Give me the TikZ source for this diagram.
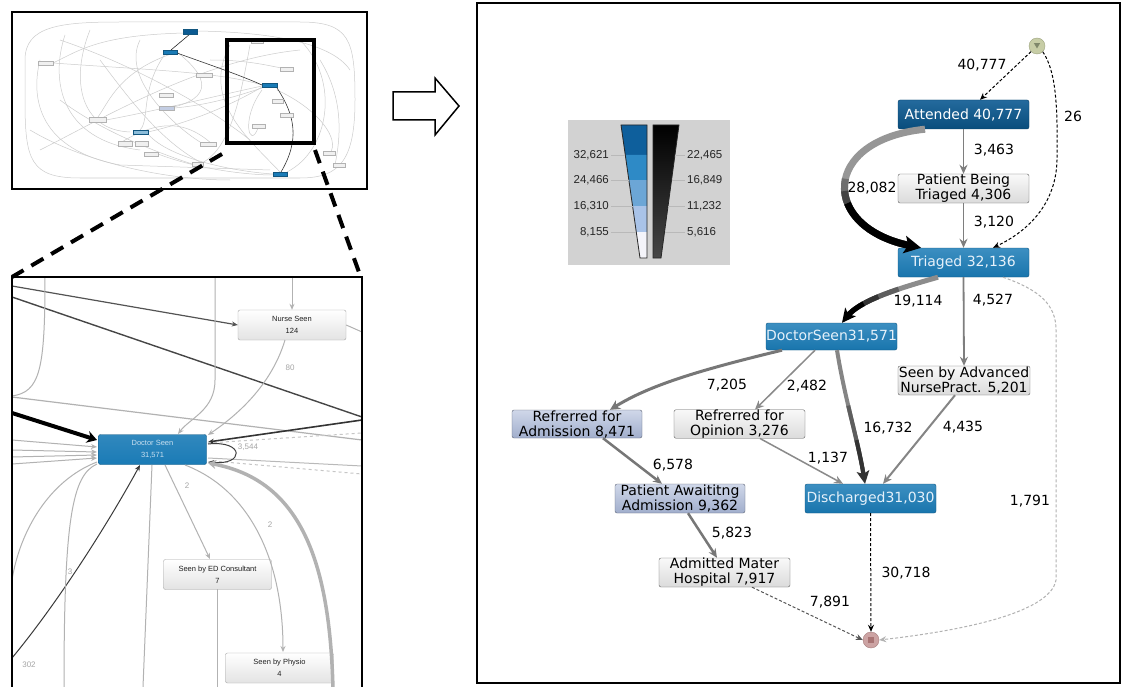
\documentclass[tikz,border=0pt]{standalone}
\usepackage{fontspec}
\setmainfont{DejaVu Sans}
\newfontfamily\lsans{Liberation Sans}
\usetikzlibrary{arrows.meta,shapes.geometric,calc}
\definecolor{dblue}{HTML}{0B5A92}
\definecolor{mblue}{HTML}{1A7BB6}
\definecolor{lblue}{HTML}{A9B7D7}
\definecolor{edgeg}{HTML}{7E7E7E}
\definecolor{legbg}{HTML}{D2D2D2}
\definecolor{bluetxt}{HTML}{E6F1FA}
\definecolor{bandA}{HTML}{0E5F9C}
\definecolor{bandB}{HTML}{2E8AC6}
\definecolor{bandC}{HTML}{6CA6D6}
\definecolor{bandD}{HTML}{A9C3E8}
\definecolor{bandE}{HTML}{F4F4FA}
\definecolor{stdraw}{HTML}{9CA27E}
\definecolor{stfill}{HTML}{C7CDA6}
\definecolor{sttri}{HTML}{7F876A}
\definecolor{endraw}{HTML}{A67C7C}
\definecolor{enfill}{HTML}{CCA3A3}
\definecolor{ensq}{HTML}{A87474}
\definecolor{g55}{HTML}{555555}
\definecolor{g77}{HTML}{777777}
\definecolor{g85}{HTML}{858585}
\definecolor{g8A}{HTML}{8A8A8A}
\definecolor{gA}{HTML}{969696}
\definecolor{gB}{HTML}{6E6E6E}
\definecolor{gC}{HTML}{444444}
\definecolor{gD}{HTML}{8C8C8C}
\definecolor{gE}{HTML}{5E5E5E}
\definecolor{gF}{HTML}{333333}
\definecolor{gG}{HTML}{858585}
\newcommand\fsz{\fontsize{14}{15}\selectfont}
\newcommand\isz{\lsans\fontsize{7.5}{12}\selectfont}
% tail of cubic (#1 .. controls #2 and #3 .. #4) from parameter #5, options #6
\newcommand\tailseg[6]{%
  \coordinate (tq0) at ($(#1)!#5!(#2)$);
  \coordinate (tq1) at ($(#2)!#5!(#3)$);
  \coordinate (tq2) at ($(#3)!#5!(#4)$);
  \coordinate (tr0) at ($(tq0)!#5!(tq1)$);
  \coordinate (tr1) at ($(tq1)!#5!(tq2)$);
  \coordinate (ts) at ($(tr0)!#5!(tr1)$);
  \draw[#6] (ts) .. controls (tr1) and (tq2) .. (#4);
}
% arrow head: tip #1, direction back toward #2, length #3, notch #4, half width #5, colour #6
\newcommand\headat[6]{%
  \coordinate (hb) at ($(#1)!#3!(#2)$);
  \coordinate (hn) at ($(#1)!#4!(#2)$);
  \fill[#6] (#1) -- ($(hb)!#5!90:(#1)$) -- (hn) -- ($(hb)!#5!-90:(#1)$) -- cycle;
}
\tikzset{
  box/.style={rectangle, rounded corners=2pt, inner sep=0pt, align=center, font=\fsz,
    minimum width=131pt, minimum height=29pt},
  bluebox/.style={box, draw=mblue!70!black, top color=mblue!85!white, bottom color=mblue!95!black, text=bluetxt},
  darkbox/.style={box, draw=dblue!70!black, top color=dblue!90!white, bottom color=dblue!85!black, text=white},
  greybox/.style={box, draw=gray!75!black, top color=gray!5, bottom color=gray!28, text=black},
  lbbox/.style={box, draw=lblue!55!black, top color=lblue!55!white, bottom color=lblue!95!black, text=black},
  elabel/.style={font=\fsz, text=black, inner sep=0pt},
  edge/.style={draw=edgeg, line width=1.8pt, -{Stealth[length=9pt,width=8pt]}},
  dedge/.style={draw=black, line width=1pt, dash pattern=on 3pt off 2pt, -{Stealth[length=7pt,width=6pt]}},
  faint/.style={draw=gray!40, line width=0.5pt},
  tbox/.style={draw=gray!60, fill=gray!12, line width=0.4pt},
  tblue/.style={draw=mblue!70!black, fill=mblue, line width=0.4pt},
  ibox/.style={rectangle, rounded corners=2pt, draw=gray!70, top color=white, bottom color=gray!22,
    font=\isz, text=gray!25!black, align=center, inner sep=0pt, minimum width=108pt, minimum height=30pt},
  ig/.style={draw=gray!60, line width=1pt},
  iarr/.style={-{Stealth[length=6pt,width=5pt]}},
  ilab/.style={font=\lsans\fontsize{8}{9}\selectfont, text=gray!70, inner sep=0pt},
  leg/.style={font=\lsans\fontsize{11.5}{12}\selectfont, text=gray!30!black, inner sep=0pt},
}
\begin{document}
\begin{tikzpicture}[x=1pt,y=-1pt]
\useasboundingbox (0,0) rectangle (1123,687);
\fill[white] (0,0) rectangle (1123,687);

% ---------------- thumbnail ----------------
\begin{scope}
\clip (12,12) rectangle (367,189);
\draw[faint] (25,60) .. controls (25,26) and (60,22) .. (120,22) -- (300,22) .. controls (350,22) and (355,40) .. (355,100) .. controls (355,160) and (340,178) .. (300,178) -- (80,178) .. controls (30,178) and (25,160) .. (25,100) -- cycle;
\draw[faint] (40,60) .. controls (30,100) and (40,150) .. (120,165) -- (270,170);
\draw[faint] (65,35) .. controls (50,80) and (60,140) .. (140,150);
\draw[faint] (90,30) .. controls (70,80) and (80,130) .. (130,132);
\draw[faint] (185,33) .. controls (100,35) and (80,50) .. (53,63);
\draw[faint] (177,52) .. controls (120,70) and (110,100) .. (98,117);
\draw[faint] (177,52) .. controls (200,70) and (220,95) .. (174,107);
\draw[faint] (165,54) .. controls (140,90) and (150,120) .. (140,130);
\draw[faint] (197,31) .. controls (260,32) and (330,40) .. (350,70);
\draw[faint] (53,63) .. controls (150,70) and (220,72) .. (262,85);
\draw[faint] (106,120) .. controls (160,110) and (220,95) .. (262,86);
\draw[faint] (148,132) .. controls (200,120) and (240,100) .. (262,87);
\draw[faint] (174,108) .. controls (210,105) and (240,95) .. (262,88);
\draw[faint] (100,60) .. controls (130,100) and (160,140) .. (200,162);
\draw[faint] (140,40) .. controls (120,80) and (180,130) .. (200,142);
\draw[faint] (230,45) .. controls (200,100) and (250,140) .. (280,172);
\draw[faint] (250,45) .. controls (240,100) and (230,150) .. (200,164);
\draw[faint] (300,40) .. controls (340,80) and (330,150) .. (287,172);
\draw[faint] (320,60) .. controls (345,100) and (340,140) .. (335,165);
\draw[faint] (148,134) .. controls (170,160) and (240,172) .. (273,174);
\draw[faint] (158,154) .. controls (200,170) and (250,175) .. (273,175);
\draw[faint] (60,100) .. controls (100,130) and (150,150) .. (192,164);
\draw[faint] (210,60) .. controls (260,60) and (280,70) .. (293,69);
\draw[faint] (120,143) .. controls (150,125) and (180,115) .. (212,144);
\draw[faint] (40,150) .. controls (100,120) and (200,60) .. (300,50);
\draw[faint] (30,130) .. controls (80,160) and (160,180) .. (230,180);
\draw[faint] (262,90) .. controls (240,120) and (250,150) .. (258,128);
\draw[faint] (277,90) .. controls (320,110) and (340,140) .. (330,153);
\draw[faint] (60,40) .. controls (120,60) and (200,100) .. (250,140);
\draw[gray!30!black, line width=0.6pt] (190,34) -- (171,50);
\draw[gray!45!black, line width=0.6pt] (177,53) .. controls (210,65) and (240,75) .. (262,85);
\draw[gray!45!black, line width=0.6pt] (277,88) .. controls (295,115) and (300,140) .. (281,172);
% thumbnail boxes
\draw[tblue, fill=dblue] (183,29) rectangle (197,34);
\draw[tblue] (163,50) rectangle (177,54);
\draw[tblue] (262,83) rectangle (277,87);
\draw[tblue] (273,172) rectangle (287,176);
\draw[tblue, fill=mblue!50] (133,130) rectangle (148,134);
\draw[tbox, fill=lblue!70] (159,106) rectangle (174,110);
\draw[tbox] (38,61) rectangle (53,65);
\draw[tbox] (196,73) rectangle (212,77);
\draw[tbox] (159,93) rectangle (173,97);
\draw[tbox] (89,117) rectangle (106,122);
\draw[tbox] (118,141) rectangle (132,146);
\draw[tbox] (135,141) rectangle (148,146);
\draw[tbox] (144,152) rectangle (158,156);
\draw[tbox] (200,142) rectangle (216,146);
\draw[tbox] (192,162) rectangle (203,166);
\draw[tbox] (251,40) rectangle (263,43);
\draw[tbox] (280,67) rectangle (293,71);
\draw[tbox] (272,99) rectangle (283,103);
\draw[tbox] (280,113) rectangle (293,117);
\draw[tbox] (252,124) rectangle (265,128);
\draw[tbox] (323,151) rectangle (335,155);
\draw[tbox] (333,163) rectangle (345,167);
\end{scope}
\draw[line width=2pt] (12,12) rectangle (367,189);
\draw[line width=4pt] (227,40) rectangle (314,143);

% zoom dashed lines
\draw[line width=4pt, dash pattern=on 14pt off 9pt] (222,154) -- (12,277);
\draw[line width=4pt, dash pattern=on 14pt off 9pt] (315,150) -- (360,275);

% ---------------- inset ----------------
\begin{scope}
\clip (12,277) rectangle (362,687);
\node[ibox] (nurse) at (292,325) {Nurse Seen\\124};
\node[ibox, draw=mblue!70!black, top color=mblue!90!white, bottom color=mblue, text=bluetxt!85!mblue] (doc) at (152.5,449.5) {Doctor Seen\\31,571};
\node[ibox] (edc) at (217.5,574.5) {Seen by ED Consultant\\7};
\node[ibox] (phys) at (279.5,668) {Seen by Physio\\4};
\draw[ig, iarr] (292,277) -- (nurse.north);
\draw[ig, iarr, line width=1.2pt, draw=gray!65!black] (12,286) -- (nurse.west);
\draw[ig, line width=1.4pt, draw=gray!55!black] (12,297) -- (362,417);
\draw[ig, line width=1.2pt] (12,397) -- (362,440);
\draw[ig] (45,277) .. controls (45,370) and (40,392) .. (12,396);
\draw[ig, iarr] (215,277) -- (215,380) .. controls (215,410) and (190,418) .. (178,434);
\draw[ig, iarr] (285,340) .. controls (270,390) and (230,420) .. (208,435);
\node[ilab] (l80) at (290,368) {80};
\draw[line width=4pt, -{Stealth[length=10pt,width=12pt]}] (12,413) -- (97,440);
\draw[ig, iarr] (12,440) -- (97,447);
\draw[ig, iarr] (12,450) -- (97,452);
\draw[ig, iarr] (12,457) -- (97,455);
\draw[ig, iarr] (12,464) -- (97,458);
\draw[ig, iarr, line width=1.6pt, draw=gray!40!black] (362,420) -- (208,442);
\draw[ig, dashed, draw=gray!45] (208,443) -- (362,433);
\draw[ig, draw=gray!55] (208,458) -- (362,466);
\draw[ig, dashed, draw=gray!45] (213,461) -- (362,474);
\draw[ig, iarr, draw=gray!50!black] (208,444) .. controls (245,440) and (245,466) .. (208,462);
\node[ilab] (l3544) at (248,447) {3,544};
\draw[ig, line width=3.5pt, draw=gray!60, -{Stealth[length=8pt,width=9pt]}] (333,690) .. controls (330,560) and (300,480) .. (208,463);
\draw[ig, iarr] (165,465) -- (210,559);
\node[ilab] (l2a) at (187,486) {2};
\draw[ig, iarr] (185,465) .. controls (250,490) and (283,560) .. (283,652);
\node[ilab] (l2b) at (270,525) {2};
\draw[ig, iarr, draw=gray!45!black] (12,658) .. controls (60,600) and (110,520) .. (140,465);
\node[ilab] (l302) at (29,665) {302};
\draw[ig] (97,464) .. controls (72,475) and (64,520) .. (64,687);
\node[ilab] (l3) at (70,572) {3};
\draw[ig] (97,462) .. controls (50,480) and (20,530) .. (12,580);
\draw[ig] (152,465) -- (143,687);
\draw[ig] (217,589) -- (217,687);
\draw[ig] (nurse.east) -- (362,332);
\end{scope}
\draw[line width=2pt] (12,277) rectangle (362,700);

% ---------------- arrow ----------------
\draw[line width=1.5pt, fill=white] (393,92) -- (435,92) -- (435,78) -- (459,106) -- (435,135) -- (435,120) -- (393,120) -- cycle;

% ---------------- main frame ----------------
\draw[line width=1.5pt] (477,3) rectangle (1120,683);

% legend
\fill[legbg] (568,120) rectangle (730,265);
\fill[bandA] (621,125) -- (647,125) -- (647,155) -- (625.3,155) -- cycle;
\fill[bandB] (625.3,155) -- (647,155) -- (647,180) -- (628.9,180) -- cycle;
\fill[bandC] (628.9,180) -- (647,180) -- (647,206) -- (632.6,206) -- cycle;
\fill[bandD] (632.6,206) -- (647,206) -- (647,232) -- (636.3,232) -- cycle;
\fill[bandE] (636.3,232) -- (647,232) -- (647,258) -- (640,258) -- cycle;
\draw[gray!30!black, line width=0.8pt] (621,125) -- (647,125) -- (647,258) -- (640,258) -- cycle;
\shade[top color=black, bottom color=gray!55!black] (653,125) -- (679,125) -- (661,258) -- (653,258) -- cycle;
\draw[gray!30!black, line width=0.8pt] (653,125) -- (679,125) -- (661,258) -- (653,258) -- cycle;
\foreach \yy/\xl/\xr in {155/625.3/674.9, 180/628.9/671.6, 206/632.6/668, 232/636.3/664.5}{
  \draw[gray!55, line width=0.5pt] (611,\yy) -- (\xl,\yy);
  \draw[gray!55, line width=0.5pt] (\xr,\yy) -- (685,\yy);
}
\node[leg, anchor=east] (ll1) at (609,155) {32,621};
\node[leg, anchor=east] (ll2) at (609,180) {24,466};
\node[leg, anchor=east] (ll3) at (609,206) {16,310};
\node[leg, anchor=east] (ll4) at (609,232) {8,155};
\node[leg, anchor=west] (lr1) at (687,155) {22,465};
\node[leg, anchor=west] (lr2) at (687,180) {16,849};
\node[leg, anchor=west] (lr3) at (687,206) {11,232};
\node[leg, anchor=west] (lr4) at (687,232) {5,616};

% nodes
\node[circle, minimum size=16pt, inner sep=0pt, draw=stdraw, fill=stfill] (start) at (1037,46) {};
\node[regular polygon, regular polygon sides=3, shape border rotate=180, fill=sttri, inner sep=0pt, minimum size=7pt] (starttri) at (1037,45) {};
\node[circle, minimum size=16pt, inner sep=0pt, draw=endraw, fill=enfill] (end) at (871,640) {};
\node[rectangle, fill=ensq, inner sep=0pt, minimum size=6pt] (endsq) at (871,640) {};

\node[darkbox] (att) at (963.5,114.5) {Attended 40,777};
\node[greybox] (pbt) at (963.5,188.5) {Patient Being\\Triaged 4,306};
\node[bluebox] (tri) at (963.5,262.5) {Triaged 32,136};
\node[bluebox, minimum height=27pt] (doc2) at (831.5,336.5) {DoctorSeen31,571};
\node[greybox, minimum width=132pt] (sanp) at (964,380.5) {Seen by Advanced\\NursePract. 5,201};
\node[lbbox, minimum width=130pt, minimum height=28pt] (radm) at (577,424) {Refrerred for\\Admission 8,471};
\node[greybox, minimum height=28pt] (rop) at (739.5,424) {Refrerred for\\Opinion 3,276};
\node[lbbox, minimum width=130pt] (paw) at (680,498.5) {Patient Awaititng\\Admission 9,362};
\node[bluebox] (dis) at (870.5,498.5) {Discharged31,030};
\node[greybox] (amh) at (724.5,572.5) {Admitted Mater\\Hospital 7,917};

% edges
\draw[dedge] (start) -- (att.north -| 980,0);
\node[elabel] (e1) at (982,65) {40,777};
\draw[dedge] (start.south east) .. controls (1055,70) and (1058,100) .. (1057,160) .. controls (1056,210) and (1020,235) .. (tri.north -| 993,0);
\node[elabel] (e2) at (1073,116) {26};
\draw[edge] (att.south) -- (pbt.north);
\node[elabel] (e3) at (994,150) {3,463};
\draw[edge] (pbt.south) -- (tri.north);
\node[elabel] (e4) at (994,222) {3,120};

% thick Attended -> Triaged (grey to black)
\coordinate (a0) at (att.south -| 925,0);
\coordinate (a1) at (820,140);
\coordinate (a2) at (820,228);
\coordinate (a3) at (tri.north -| 921,0);
\coordinate (a3b) at ($(a3)!10pt!(a2)$);
\draw[draw=gA, line width=7pt] (a0) .. controls (a1) and (a2) .. (a3b);
\tailseg{a0}{a1}{a2}{a3b}{0.46}{draw=gB, line width=7pt}
\tailseg{a0}{a1}{a2}{a3b}{0.54}{draw=gC, line width=7pt}
\tailseg{a0}{a1}{a2}{a3b}{0.62}{draw=black, line width=7pt}
\headat{a3}{a2}{17pt}{13pt}{9pt}{black}
\node[elabel] (e5) at (872,188) {28,082};

% Triaged -> DoctorSeen
\coordinate (b0) at (tri.south -| 938,0);
\coordinate (b1) at (900,288);
\coordinate (b2) at (860,300);
\coordinate (b3) at (doc2.north -| 842,0);
\coordinate (b3b) at ($(b3)!8pt!(b2)$);
\draw[draw=gD, line width=5pt] (b0) .. controls (b1) and (b2) .. (b3b);
\tailseg{b0}{b1}{b2}{b3b}{0.35}{draw=gE, line width=5pt}
\tailseg{b0}{b1}{b2}{b3b}{0.55}{draw=gF, line width=5pt}
\tailseg{b0}{b1}{b2}{b3b}{0.72}{draw=black, line width=5pt}
\headat{b3}{b2}{14pt}{10.5pt}{7pt}{black}
\node[elabel] (e6) at (918,301) {19,114};
\draw[edge] (tri.south) -- (sanp.north);
\node[elabel] (e7) at (993,300) {4,527};
\draw[draw=gray!60, line width=1pt, dash pattern=on 3pt off 2pt, -{Stealth[length=7pt,width=6pt]}] (tri.south -| 1003,0) .. controls (1040,290) and (1056,305) .. (1056,330) -- (1056,580) .. controls (1050,615) and (950,632) .. (end.east);
\node[elabel] (e8) at (1030,501) {1,791};

% DoctorSeen out
\draw[edge, line width=3pt, draw=g77, -{Stealth[length=10pt,width=10pt]}] (doc2.south -| 782,0) .. controls (700,370) and (650,385) .. (radm.north -| 610,0);
\node[elabel] (e9) at (727,385) {7,205};
\draw[edge, line width=1.5pt, draw=g8A] (doc2.south -| 815,0) -- (rop.north -| 755,0);
\node[elabel] (e10) at (807,386) {2,482};
\coordinate (c0) at (doc2.south -| 837,0);
\coordinate (c1) at (845,400);
\coordinate (c2) at (858,440);
\coordinate (c3) at (dis.north -| 865,0);
\coordinate (c3b) at ($(c3)!7.5pt!(c2)$);
\draw[draw=gG, line width=4pt] (c0) .. controls (c1) and (c2) .. (c3b);
\tailseg{c0}{c1}{c2}{c3b}{0.4}{draw=gE, line width=4pt}
\tailseg{c0}{c1}{c2}{c3b}{0.68}{draw=gF, line width=4pt}
\headat{c3}{c2}{13pt}{10pt}{6.5pt}{gF}
\node[elabel] (e11) at (888,428) {16,732};
\draw[edge, line width=2pt, draw=g85] (sanp.south -| 955,0) -- (dis.north -| 883,0);
\node[elabel] (e12) at (963,427) {4,435};
\draw[edge, line width=1.5pt, draw=g8A] (rop.south -| 760,0) -- (dis.north -| 843,0);
\node[elabel] (e13) at (828,458) {1,137};
\draw[edge, line width=2.5pt, draw=g77] (radm.south -| 603,0) -- (paw.north -| 662,0);
\node[elabel] (e14) at (673,465) {6,578};
\draw[edge, line width=2.5pt, draw=g77] (paw.south -| 688,0) -- (amh.north -| 717,0);
\node[elabel] (e15) at (732,533) {5,823};
\draw[draw=g55, line width=1pt, dash pattern=on 3pt off 2pt, -{Stealth[length=7pt,width=6pt]}] (amh.south -| 752,0) -- (end.west);
\node[elabel] (e16) at (830,602) {7,891};
\draw[dedge] (dis.south) -- (end.north);
\node[elabel] (e17) at (906,573) {30,718};
\end{tikzpicture}
\end{document}
